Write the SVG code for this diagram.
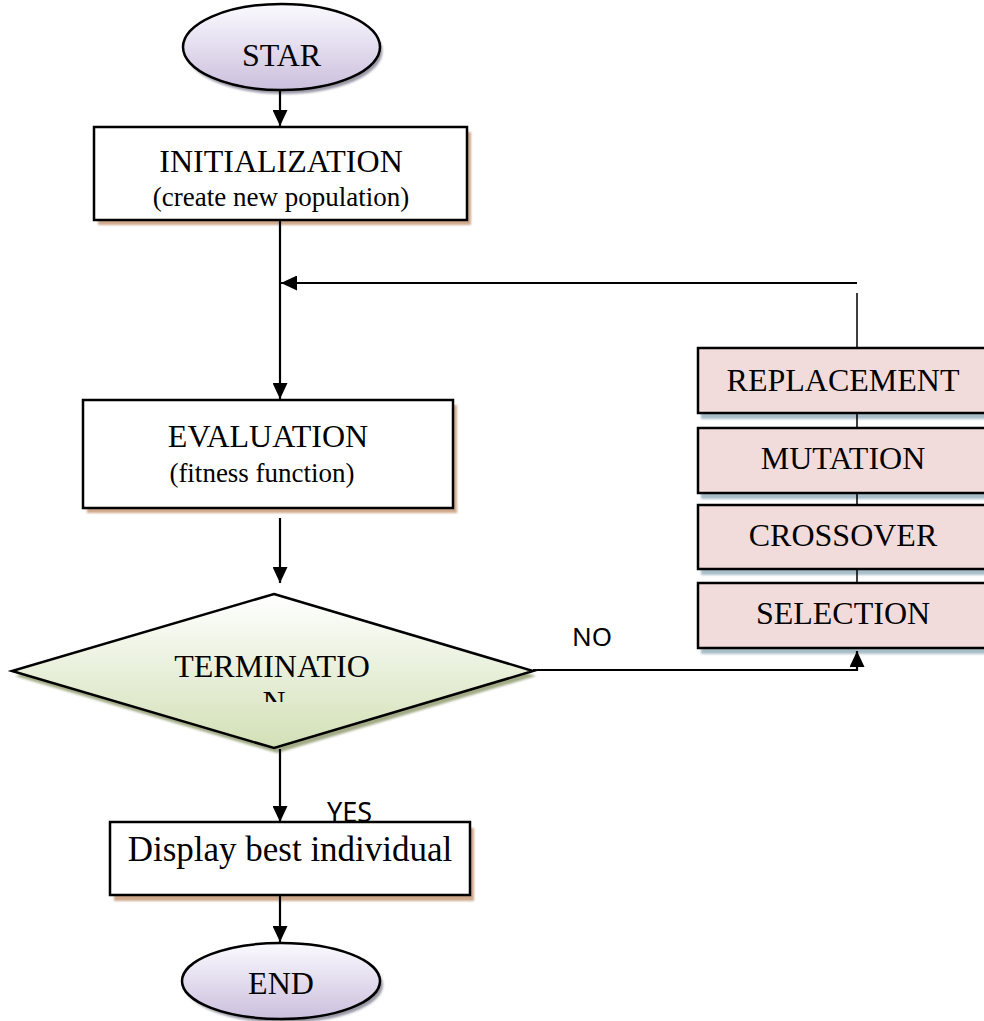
<svg xmlns="http://www.w3.org/2000/svg" width="984" height="1021" viewBox="0 0 984 1021">
<style>
.t{font-family:"Liberation Serif","Times New Roman",serif;font-size:32px;fill:#000;text-anchor:middle}
.s{font-size:27px}
.lbl{font-family:"Noto Sans","Liberation Sans",sans-serif;font-size:26px;fill:#000}
.box{fill:#fff;stroke:#000;stroke-width:2.5}
.op{fill:#f2dcdb;stroke:#000;stroke-width:2.5}
.sh1{fill:#cfa98c;filter:url(#blur)}
.sh2{fill:url(#gSh2);filter:url(#blur)}
.sh3{fill:#9a98a6;filter:url(#blur)}
.sh4{fill:#a2ab86;filter:url(#blur)}
.con{fill:none;stroke:#000;stroke-width:2.2}
.thin{fill:none;stroke:#000;stroke-width:1.5}
</style>
<defs>
<linearGradient id="gEll" x1="0" y1="0" x2="0" y2="1"><stop offset="0" stop-color="#fbfaff"/><stop offset="1" stop-color="#cbbfdd"/></linearGradient>
<linearGradient id="gDia" x1="0" y1="0" x2="0" y2="1"><stop offset="0" stop-color="#ffffff"/><stop offset="1" stop-color="#d2e0b6"/></linearGradient>
<linearGradient id="gSh2" x1="0" y1="0" x2="0" y2="1"><stop offset="0" stop-color="#7d9cab"/><stop offset="1" stop-color="#a9c0ca"/></linearGradient>
<filter id="blur" x="-5%" y="-5%" width="110%" height="120%"><feGaussianBlur stdDeviation="1"/></filter>
<marker id="ah" viewBox="0 0 16 15" refX="16" refY="7.5" markerUnits="userSpaceOnUse" markerWidth="16" markerHeight="15" orient="auto"><path d="M0,0 L16,7.5 L0,15 z" fill="#000"/></marker>
<clipPath id="clipN"><rect x="0" y="590" width="560" height="112"/></clipPath>
</defs>

<g id="start">
<ellipse cx="284" cy="51" rx="98.5" ry="43" class="sh3"/>
<ellipse cx="281.5" cy="47" rx="98.5" ry="43" fill="url(#gEll)" stroke="#000" stroke-width="2.5"/>
<text x="281.5" y="66" class="t">STAR</text>
</g>

<g id="init">
<rect x="98" y="132" width="373" height="93" class="sh1"/>
<rect x="94" y="127" width="373" height="93" class="box"/>
<text x="281" y="172" class="t">INITIALIZATION</text>
<text x="281" y="206" class="t s">(create new population)</text>
</g>

<g id="eval">
<rect x="87" y="405" width="370" height="108" class="sh1"/>
<rect x="83" y="400" width="370" height="108" class="box"/>
<text x="268" y="447" class="t">EVALUATION</text>
<text x="262" y="482" class="t s">(fitness function)</text>
</g>

<g id="termination">
<polygon points="277,599 536,676 277,753 15,676" class="sh4"/>
<polygon points="274,594 533,671 274,748 12,671" fill="url(#gDia)" stroke="#000" stroke-width="2.5"/>
<text x="272" y="677" class="t">TERMINATIO</text>
<text x="274" y="713" class="t" clip-path="url(#clipN)">N</text>
</g>

<g id="yes-label">
<text x="327" y="822" class="lbl" style="font-size:27px">YES</text>
</g>

<g id="display">
<rect x="114" y="828" width="360" height="73" class="sh1"/>
<rect x="110" y="822" width="360" height="73" class="box"/>
<text x="290" y="861" class="t" style="font-size:35px">Display best individual</text>
</g>

<g id="end">
<ellipse cx="284" cy="985" rx="99" ry="38" class="sh3"/>
<ellipse cx="281" cy="981" rx="99" ry="38" fill="url(#gEll)" stroke="#000" stroke-width="2.5"/>
<text x="281" y="994" class="t">END</text>
</g>

<g id="replacement">
<rect x="701" y="354" width="290" height="65" class="sh2"/>
<rect x="698" y="348" width="290" height="65" class="op"/>
<text x="843" y="391" class="t">REPLACEMENT</text>
</g>
<g id="mutation">
<rect x="701" y="434" width="290" height="65" class="sh2"/>
<rect x="698" y="428" width="290" height="65" class="op"/>
<text x="843" y="469" class="t">MUTATION</text>
</g>
<g id="crossover">
<rect x="701" y="511" width="290" height="64" class="sh2"/>
<rect x="698" y="505" width="290" height="64" class="op"/>
<text x="843" y="546" class="t">CROSSOVER</text>
</g>
<g id="selection">
<rect x="701" y="589" width="290" height="65" class="sh2"/>
<rect x="698" y="583" width="290" height="65" class="op"/>
<text x="843" y="624" class="t">SELECTION</text>
</g>

<g id="no-label">
<text x="572" y="646" class="lbl">NO</text>
</g>

<g id="connectors">
<path d="M280,90 V126" class="con" marker-end="url(#ah)"/>
<path d="M280,220 V399" class="con" marker-end="url(#ah)"/>
<path d="M857,283 H281" class="con" marker-end="url(#ah)"/>
<path d="M857,293 V347 M857,414 V427 M857,494 V504 M857,570 V582" class="thin"/>
<path d="M280,518 V583" class="con" marker-end="url(#ah)"/>
<path d="M533,670 H857 V651" class="con" marker-end="url(#ah)"/>
<path d="M280,749 V822" class="con" marker-end="url(#ah)"/>
<path d="M280,896 V942" class="con" marker-end="url(#ah)"/>
</g>
</svg>
